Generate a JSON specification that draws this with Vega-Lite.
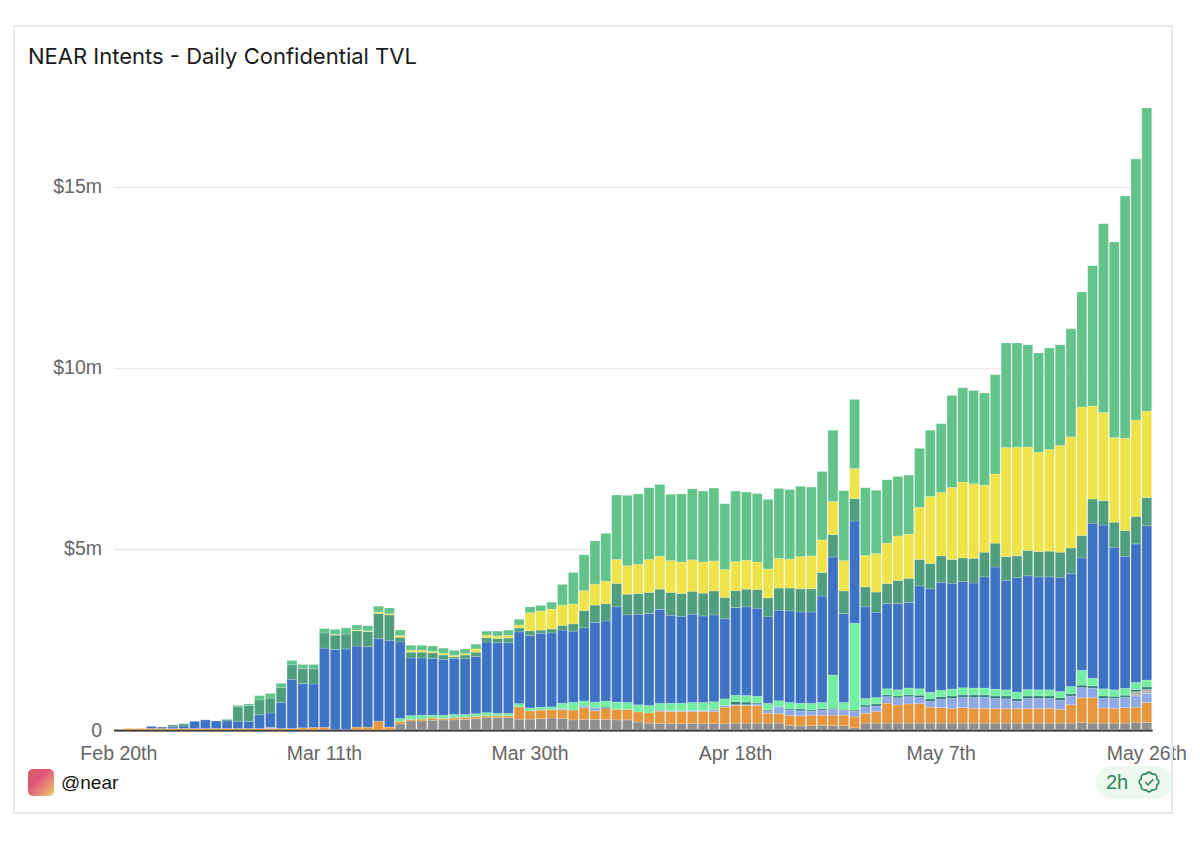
{
  "$schema": "https://vega.github.io/schema/vega-lite/v6.json",
  "width": 1038.6,
  "height": 622,
  "autosize": "none",
  "padding": {"left": 113.5, "top": 108, "right": 47.9, "bottom": 112},
  "background": "white",
  "title": {"text": "NEAR Intents - Daily Confidential TVL", "anchor": "start", "frame": "group", "dx": -85.5, "offset": -44, "font": "Inter", "fontSize": 22, "fontWeight": 400, "color": "#1a1a1a"},
  "config": {"view": {"stroke": null}},
  "datasets": {
    "tvl": [
      {"day":"Feb 20th","b_orange":0.01},
      {"day":"Feb 21st","b_orange":0.04},
      {"day":"Feb 22nd","b_orange":0.04},
      {"day":"Feb 23rd","b_orange":0.04,"g_blue":0.06},
      {"day":"Feb 24th","b_orange":0.04,"g_blue":0.04},
      {"day":"Feb 25th","b_orange":0.04,"g_blue":0.05,"h_forest":0.05},
      {"day":"Feb 26th","b_orange":0.04,"g_blue":0.07,"h_forest":0.06},
      {"day":"Feb 27th","b_orange":0.04,"g_blue":0.20},
      {"day":"Feb 28th","b_orange":0.04,"g_blue":0.24},
      {"day":"Mar 1st","b_orange":0.04,"g_blue":0.21},
      {"day":"Mar 2nd","b_orange":0.04,"g_blue":0.21,"h_forest":0.04},
      {"day":"Mar 3rd","b_orange":0.04,"g_blue":0.20,"h_forest":0.40,"j_green":0.04},
      {"day":"Mar 4th","b_orange":0.04,"g_blue":0.20,"h_forest":0.44,"j_green":0.04},
      {"day":"Mar 5th","b_orange":0.04,"g_blue":0.38,"h_forest":0.41,"j_green":0.12},
      {"day":"Mar 6th","b_orange":0.04,"c_peri":0.04,"g_blue":0.39,"h_forest":0.41,"j_green":0.13},
      {"day":"Mar 7th","b_orange":0.04,"g_blue":0.72,"h_forest":0.41,"j_green":0.12},
      {"day":"Mar 8th","b_orange":0.04,"g_blue":1.36,"h_forest":0.40,"j_green":0.12},
      {"day":"Mar 9th","b_orange":0.06,"g_blue":1.22,"h_forest":0.42,"j_green":0.11},
      {"day":"Mar 10th","b_orange":0.07,"g_blue":1.20,"h_forest":0.42,"j_green":0.12},
      {"day":"Mar 11th","b_orange":0.07,"g_blue":2.19,"h_forest":0.42,"j_green":0.12},
      {"day":"Mar 12th","b_orange":0.01,"g_blue":2.21,"h_forest":0.40,"i_yellow":0.02,"j_green":0.14},
      {"day":"Mar 13th","b_orange":0.01,"g_blue":2.23,"h_forest":0.41,"j_green":0.17},
      {"day":"Mar 14th","b_orange":0.08,"g_blue":2.24,"h_forest":0.42,"i_yellow":0.02,"j_green":0.14},
      {"day":"Mar 15th","b_orange":0.08,"g_blue":2.22,"h_forest":0.42,"i_yellow":0.02,"j_green":0.14},
      {"day":"Mar 16th","b_orange":0.24,"g_blue":2.28,"h_forest":0.70,"i_yellow":0.04,"j_green":0.16},
      {"day":"Mar 17th","b_orange":0.08,"g_blue":2.39,"h_forest":0.71,"i_yellow":0.03,"j_green":0.16},
      {"day":"Mar 18th","a_gray":0.17,"b_orange":0.07,"f_mint":0.08,"g_blue":2.11,"h_forest":0.13,"i_yellow":0.05,"j_green":0.15},
      {"day":"Mar 19th","a_gray":0.25,"b_orange":0.04,"f_mint":0.11,"g_blue":1.59,"h_forest":0.16,"i_yellow":0.05,"j_green":0.14},
      {"day":"Mar 20th","a_gray":0.25,"b_orange":0.05,"f_mint":0.11,"g_blue":1.58,"h_forest":0.16,"i_yellow":0.05,"j_green":0.14},
      {"day":"Mar 21st","a_gray":0.27,"b_orange":0.06,"f_mint":0.08,"g_blue":1.57,"h_forest":0.15,"i_yellow":0.04,"j_green":0.15},
      {"day":"Mar 22nd","a_gray":0.28,"b_orange":0.04,"f_mint":0.09,"g_blue":1.54,"h_forest":0.12,"i_yellow":0.05,"j_green":0.14},
      {"day":"Mar 23rd","a_gray":0.28,"b_orange":0.06,"f_mint":0.09,"g_blue":1.55,"h_forest":0.04,"i_yellow":0.04,"j_green":0.14},
      {"day":"Mar 24th","a_gray":0.29,"b_orange":0.06,"f_mint":0.08,"g_blue":1.55,"h_forest":0.09,"i_yellow":0.04,"j_green":0.13},
      {"day":"Mar 25th","a_gray":0.31,"b_orange":0.06,"f_mint":0.08,"g_blue":1.58,"h_forest":0.12,"i_yellow":0.09,"j_green":0.13},
      {"day":"Mar 26th","a_gray":0.34,"b_orange":0.05,"f_mint":0.09,"g_blue":1.95,"h_forest":0.12,"i_yellow":0.07,"j_green":0.11},
      {"day":"Mar 27th","a_gray":0.34,"b_orange":0.05,"f_mint":0.07,"g_blue":1.95,"h_forest":0.12,"i_yellow":0.07,"j_green":0.13},
      {"day":"Mar 28th","a_gray":0.34,"b_orange":0.05,"f_mint":0.07,"g_blue":1.95,"h_forest":0.13,"i_yellow":0.07,"j_green":0.15},
      {"day":"Mar 29th","a_gray":0.30,"b_orange":0.34,"f_mint":0.09,"g_blue":1.98,"h_forest":0.11,"i_yellow":0.08,"j_green":0.16},
      {"day":"Mar 30th","a_gray":0.30,"b_orange":0.23,"f_mint":0.08,"g_blue":2.00,"h_forest":0.13,"i_yellow":0.50,"j_green":0.16},
      {"day":"Mar 31st","a_gray":0.31,"b_orange":0.24,"f_mint":0.08,"g_blue":2.04,"h_forest":0.09,"i_yellow":0.53,"j_green":0.15},
      {"day":"Apr 1st","a_gray":0.33,"b_orange":0.23,"f_mint":0.08,"g_blue":2.04,"h_forest":0.11,"i_yellow":0.55,"j_green":0.19},
      {"day":"Apr 2nd","a_gray":0.32,"b_orange":0.24,"c_peri":0.03,"f_mint":0.15,"g_blue":2.02,"h_forest":0.13,"i_yellow":0.56,"j_green":0.57},
      {"day":"Apr 3rd","a_gray":0.28,"b_orange":0.27,"f_mint":0.21,"g_blue":1.97,"h_forest":0.20,"i_yellow":0.55,"j_green":0.87},
      {"day":"Apr 4th","a_gray":0.29,"b_orange":0.32,"c_peri":0.05,"f_mint":0.14,"g_blue":2.02,"h_forest":0.48,"i_yellow":0.55,"j_green":0.99},
      {"day":"Apr 5th","a_gray":0.29,"b_orange":0.24,"c_peri":0.08,"f_mint":0.16,"g_blue":2.20,"h_forest":0.48,"i_yellow":0.58,"j_green":1.19},
      {"day":"Apr 6th","a_gray":0.29,"b_orange":0.30,"e_teal":0.04,"f_mint":0.17,"g_blue":2.21,"h_forest":0.48,"i_yellow":0.62,"j_green":1.32},
      {"day":"Apr 7th","a_gray":0.28,"b_orange":0.29,"f_mint":0.20,"g_blue":2.63,"h_forest":0.65,"i_yellow":0.66,"j_green":1.78},
      {"day":"Apr 8th","a_gray":0.28,"b_orange":0.29,"f_mint":0.19,"g_blue":2.42,"h_forest":0.57,"i_yellow":0.79,"j_green":1.94},
      {"day":"Apr 9th","a_gray":0.22,"b_orange":0.28,"f_mint":0.20,"g_blue":2.50,"h_forest":0.57,"i_yellow":0.81,"j_green":1.94},
      {"day":"Apr 10th","a_gray":0.19,"b_orange":0.28,"f_mint":0.21,"g_blue":2.54,"h_forest":0.58,"i_yellow":0.91,"j_green":1.98},
      {"day":"Apr 11th","a_gray":0.18,"b_orange":0.34,"c_peri":0.03,"f_mint":0.19,"g_blue":2.59,"h_forest":0.56,"i_yellow":0.91,"j_green":1.98},
      {"day":"Apr 12th","a_gray":0.18,"b_orange":0.33,"c_peri":0.02,"f_mint":0.21,"g_blue":2.43,"h_forest":0.63,"i_yellow":0.88,"j_green":1.83},
      {"day":"Apr 13th","a_gray":0.18,"b_orange":0.33,"c_peri":0.02,"f_mint":0.21,"g_blue":2.40,"h_forest":0.63,"i_yellow":0.87,"j_green":1.88},
      {"day":"Apr 14th","a_gray":0.18,"b_orange":0.33,"c_peri":0.03,"f_mint":0.22,"g_blue":2.44,"h_forest":0.63,"i_yellow":0.87,"j_green":1.96},
      {"day":"Apr 15th","a_gray":0.18,"b_orange":0.33,"c_peri":0.03,"f_mint":0.22,"g_blue":2.39,"h_forest":0.63,"i_yellow":0.86,"j_green":1.96},
      {"day":"Apr 16th","a_gray":0.18,"b_orange":0.33,"c_peri":0.05,"f_mint":0.22,"g_blue":2.40,"h_forest":0.66,"i_yellow":0.83,"j_green":2.01},
      {"day":"Apr 17th","a_gray":0.17,"b_orange":0.46,"c_peri":0.05,"f_mint":0.18,"g_blue":2.21,"h_forest":0.59,"i_yellow":0.77,"j_green":1.82},
      {"day":"Apr 18th","a_gray":0.19,"b_orange":0.49,"c_peri":0.02,"e_teal":0.08,"f_mint":0.18,"g_blue":2.42,"h_forest":0.47,"i_yellow":0.80,"j_green":1.95},
      {"day":"Apr 19th","a_gray":0.19,"b_orange":0.49,"c_peri":0.02,"e_teal":0.07,"f_mint":0.18,"g_blue":2.45,"h_forest":0.49,"i_yellow":0.80,"j_green":1.88},
      {"day":"Apr 20th","a_gray":0.19,"b_orange":0.48,"c_peri":0.05,"e_teal":0.03,"f_mint":0.18,"g_blue":2.43,"h_forest":0.52,"i_yellow":0.76,"j_green":1.89},
      {"day":"Apr 21st","a_gray":0.19,"b_orange":0.27,"c_peri":0.07,"e_teal":0.03,"f_mint":0.18,"g_blue":2.40,"h_forest":0.51,"i_yellow":0.80,"j_green":1.92},
      {"day":"Apr 22nd","a_gray":0.19,"b_orange":0.26,"c_peri":0.18,"e_teal":0.02,"f_mint":0.16,"g_blue":2.50,"h_forest":0.61,"i_yellow":0.82,"j_green":1.93},
      {"day":"Apr 23rd","a_gray":0.13,"b_orange":0.27,"c_peri":0.15,"e_teal":0.03,"f_mint":0.18,"g_blue":2.53,"h_forest":0.63,"i_yellow":0.80,"j_green":1.92},
      {"day":"Apr 24th","a_gray":0.11,"b_orange":0.28,"c_peri":0.14,"e_teal":0.05,"f_mint":0.16,"g_blue":2.52,"h_forest":0.64,"i_yellow":0.89,"j_green":1.94},
      {"day":"Apr 25th","a_gray":0.12,"b_orange":0.29,"c_peri":0.11,"e_teal":0.04,"f_mint":0.18,"g_blue":2.52,"h_forest":0.64,"i_yellow":0.91,"j_green":1.90},
      {"day":"Apr 26th","a_gray":0.13,"b_orange":0.28,"c_peri":0.14,"e_teal":0.04,"f_mint":0.17,"g_blue":2.94,"h_forest":0.65,"i_yellow":0.90,"j_green":1.89},
      {"day":"Apr 27th","a_gray":0.12,"b_orange":0.29,"c_peri":0.16,"e_teal":0.03,"f_mint":0.92,"g_blue":3.26,"h_forest":0.62,"i_yellow":0.91,"j_green":1.97},
      {"day":"Apr 28th","a_gray":0.12,"b_orange":0.29,"c_peri":0.13,"e_teal":0.03,"f_mint":0.19,"g_blue":2.46,"h_forest":0.62,"i_yellow":0.84,"j_green":1.93},
      {"day":"Apr 29th","a_gray":0.06,"b_orange":0.30,"c_peri":0.16,"e_teal":0.03,"f_mint":2.40,"g_blue":2.82,"h_forest":0.62,"i_yellow":0.83,"j_green":1.91},
      {"day":"Apr 30th","a_gray":0.19,"b_orange":0.27,"c_peri":0.18,"e_teal":0.05,"f_mint":0.18,"g_blue":2.53,"h_forest":0.55,"i_yellow":0.87,"j_green":1.87},
      {"day":"May 1st","a_gray":0.19,"b_orange":0.32,"c_peri":0.15,"e_teal":0.06,"f_mint":0.18,"g_blue":2.35,"h_forest":0.56,"i_yellow":1.06,"j_green":1.75},
      {"day":"May 2nd","a_gray":0.19,"b_orange":0.55,"c_peri":0.18,"e_teal":0.05,"f_mint":0.17,"g_blue":2.35,"h_forest":0.55,"i_yellow":1.12,"j_green":1.75},
      {"day":"May 3rd","a_gray":0.19,"b_orange":0.50,"c_peri":0.20,"e_teal":0.05,"f_mint":0.17,"g_blue":2.38,"h_forest":0.64,"i_yellow":1.23,"j_green":1.64},
      {"day":"May 4th","a_gray":0.19,"b_orange":0.53,"c_peri":0.20,"e_teal":0.05,"f_mint":0.19,"g_blue":2.36,"h_forest":0.67,"i_yellow":1.22,"j_green":1.63},
      {"day":"May 5th","a_gray":0.19,"b_orange":0.54,"c_peri":0.17,"e_teal":0.06,"f_mint":0.18,"g_blue":2.84,"h_forest":0.73,"i_yellow":1.44,"j_green":1.63},
      {"day":"May 6th","a_gray":0.19,"b_orange":0.44,"c_peri":0.16,"e_teal":0.07,"f_mint":0.18,"g_blue":2.86,"h_forest":0.70,"i_yellow":1.85,"j_green":1.83},
      {"day":"May 7th","a_gray":0.19,"b_orange":0.43,"c_peri":0.23,"e_teal":0.07,"f_mint":0.18,"g_blue":2.98,"h_forest":0.73,"i_yellow":1.75,"j_green":1.90},
      {"day":"May 8th","a_gray":0.19,"b_orange":0.41,"c_peri":0.27,"e_teal":0.07,"f_mint":0.19,"g_blue":2.92,"h_forest":0.66,"i_yellow":1.99,"j_green":2.54},
      {"day":"May 9th","a_gray":0.19,"b_orange":0.43,"c_peri":0.28,"e_teal":0.07,"f_mint":0.20,"g_blue":2.93,"h_forest":0.65,"i_yellow":2.10,"j_green":2.60},
      {"day":"May 10th","a_gray":0.19,"b_orange":0.41,"c_peri":0.30,"e_teal":0.07,"f_mint":0.19,"g_blue":2.90,"h_forest":0.68,"i_yellow":2.06,"j_green":2.58},
      {"day":"May 11th","a_gray":0.19,"b_orange":0.41,"c_peri":0.30,"e_teal":0.07,"f_mint":0.19,"g_blue":3.07,"h_forest":0.68,"i_yellow":1.85,"j_green":2.55},
      {"day":"May 12th","a_gray":0.19,"b_orange":0.40,"c_peri":0.28,"e_teal":0.07,"f_mint":0.19,"g_blue":3.37,"h_forest":0.66,"i_yellow":1.91,"j_green":2.74},
      {"day":"May 13th","a_gray":0.19,"b_orange":0.40,"c_peri":0.27,"e_teal":0.08,"f_mint":0.17,"g_blue":3.02,"h_forest":0.66,"i_yellow":3.01,"j_green":2.89},
      {"day":"May 14th","a_gray":0.19,"b_orange":0.40,"c_peri":0.21,"e_teal":0.07,"f_mint":0.18,"g_blue":3.16,"h_forest":0.60,"i_yellow":3.00,"j_green":2.88},
      {"day":"May 15th","a_gray":0.19,"b_orange":0.40,"c_peri":0.28,"e_teal":0.07,"f_mint":0.18,"g_blue":3.14,"h_forest":0.70,"i_yellow":2.86,"j_green":2.82},
      {"day":"May 16th","a_gray":0.19,"b_orange":0.40,"c_peri":0.28,"e_teal":0.07,"f_mint":0.17,"g_blue":3.12,"h_forest":0.70,"i_yellow":2.74,"j_green":2.74},
      {"day":"May 17th","a_gray":0.19,"b_orange":0.41,"c_peri":0.27,"e_teal":0.07,"f_mint":0.17,"g_blue":3.12,"h_forest":0.71,"i_yellow":2.81,"j_green":2.80},
      {"day":"May 18th","a_gray":0.19,"b_orange":0.38,"c_peri":0.25,"e_teal":0.07,"f_mint":0.17,"g_blue":3.15,"h_forest":0.70,"i_yellow":2.95,"j_green":2.78},
      {"day":"May 19th","a_gray":0.19,"b_orange":0.51,"c_peri":0.24,"e_teal":0.06,"f_mint":0.20,"g_blue":3.12,"h_forest":0.71,"i_yellow":3.07,"j_green":2.98},
      {"day":"May 20th","a_gray":0.21,"b_orange":0.68,"c_peri":0.28,"e_teal":0.07,"f_mint":0.41,"g_blue":3.10,"h_forest":0.62,"i_yellow":3.55,"j_green":3.18},
      {"day":"May 21st","a_gray":0.19,"b_orange":0.70,"c_peri":0.26,"e_teal":0.07,"f_mint":0.21,"g_blue":4.28,"h_forest":0.67,"i_yellow":2.57,"j_green":3.87},
      {"day":"May 22nd","a_gray":0.19,"b_orange":0.42,"c_peri":0.26,"e_teal":0.07,"f_mint":0.20,"g_blue":4.52,"h_forest":0.67,"i_yellow":2.44,"j_green":5.21},
      {"day":"May 23rd","a_gray":0.19,"b_orange":0.41,"c_peri":0.27,"e_teal":0.06,"f_mint":0.18,"g_blue":3.94,"h_forest":0.69,"i_yellow":2.34,"j_green":5.40},
      {"day":"May 24th","a_gray":0.19,"b_orange":0.43,"c_peri":0.28,"e_teal":0.06,"f_mint":0.19,"g_blue":3.64,"h_forest":0.72,"i_yellow":2.55,"j_green":6.69},
      {"day":"May 25th","a_gray":0.21,"b_orange":0.42,"c_peri":0.31,"d_silver":0.12,"e_teal":0.06,"f_mint":0.19,"g_blue":3.83,"h_forest":0.76,"i_yellow":2.66,"j_green":7.21},
      {"day":"May 26th","a_gray":0.21,"b_orange":0.55,"c_peri":0.25,"d_silver":0.11,"e_teal":0.07,"f_mint":0.19,"g_blue":4.26,"h_forest":0.78,"i_yellow":2.39,"j_green":8.37}
    ]
  },
  "layer": [
    {
      "data": {"name": "tvl"},
      "transform": [
        {"fold": ["a_gray", "b_orange", "c_peri", "d_silver", "e_teal", "f_mint", "g_blue", "h_forest", "i_yellow", "j_green"], "as": ["series", "tvl_m"]},
        {"filter": {"field": "tvl_m", "valid": true}}
      ],
      "mark": {"type": "bar", "stroke": "white", "strokeOpacity": 0.35, "strokeWidth": 0.5},
      "encoding": {
        "x": {
          "field": "day",
          "type": "ordinal",
          "sort": null,
          "title": null,
          "scale": {"paddingInner": 0.09, "paddingOuter": 0.04},
          "axis": {
            "values": ["Feb 20th", "Mar 11th", "Mar 30th", "Apr 18th", "May 7th", "May 26th"],
            "labelAngle": 0,
            "labelOverlap": false,
            "labelFont": "Liberation Sans",
            "labelFontSize": 19.5,
            "labelColor": "#666666",
            "labelPadding": 14,
            "ticks": false,
            "domainColor": "#222222",
            "domainWidth": 2,
            "grid": false
          }
        },
        "y": {
          "field": "tvl_m",
          "type": "quantitative",
          "stack": "zero",
          "title": null,
          "scale": {"domain": [0, 17.18], "nice": false},
          "axis": {
            "values": [0, 5, 10, 15],
            "labelExpr": "datum.value == 0 ? '0' : '$' + datum.value + 'm'",
            "labelFont": "Liberation Sans",
            "labelFontSize": 19.5,
            "labelColor": "#666666",
            "labelPadding": 12,
            "ticks": false,
            "domain": false,
            "grid": true,
            "gridColor": "#e9e9e9",
            "gridWidth": 1.5
          }
        },
        "color": {
          "field": "series",
          "type": "nominal",
          "legend": null,
          "scale": {
            "domain": ["a_gray", "b_orange", "c_peri", "d_silver", "e_teal", "f_mint", "g_blue", "h_forest", "i_yellow", "j_green"],
            "range": ["#8e8e8e", "#e8963c", "#8fa8e8", "#b5b5b5", "#2f7d7c", "#72efa0", "#3d72c4", "#4f9e7e", "#eee44a", "#62c48a"]
          }
        },
        "order": {"field": "series", "sort": "ascending"}
      }
    },
    {
      "data": {"values": [{}]},
      "mark": {"type": "rect", "fill": null, "stroke": "#e8e8e8", "strokeWidth": 2},
      "encoding": {"x": {"value": -99.5}, "x2": {"value": 1058.5}, "y": {"value": -82}, "y2": {"value": 705}}
    },
    {
      "data": {"values": [{}]},
      "mark": {
        "type": "rect",
        "cornerRadius": 5,
        "fill": {"x1": 0, "y1": 0, "x2": 1, "y2": 1, "gradient": "linear", "stops": [{"offset": 0, "color": "#d9605a"}, {"offset": 0.4, "color": "#e0557e"}, {"offset": 1, "color": "#f2cf6c"}]}
      },
      "encoding": {"x": {"value": -85.5}, "x2": {"value": -59.5}, "y": {"value": 661}, "y2": {"value": 688}}
    },
    {
      "data": {"values": [{"handle": "@near"}]},
      "mark": {"type": "text", "align": "left", "baseline": "middle", "font": "Liberation Sans", "fontSize": 19, "color": "#111111"},
      "encoding": {"x": {"value": -52.5}, "y": {"value": 675}, "text": {"field": "handle"}}
    },
    {
      "data": {"values": [{}]},
      "mark": {"type": "rect", "cornerRadius": 16.5, "fill": "#edf8ef"},
      "encoding": {"x": {"value": 982.5}, "x2": {"value": 1058.5}, "y": {"value": 658}, "y2": {"value": 691}}
    },
    {
      "data": {"values": [{"age": "2h"}]},
      "mark": {"type": "text", "align": "left", "baseline": "middle", "font": "Liberation Sans", "fontSize": 20, "color": "#2e8555"},
      "encoding": {"x": {"value": 992.5}, "y": {"value": 675}, "text": {"field": "age"}}
    },
    {
      "data": {"values": [{}]},
      "mark": {
        "type": "point",
        "filled": false,
        "size": 440,
        "strokeWidth": 1.6,
        "color": "#2e8555",
        "opacity": 1,
        "shape": "M0.74,-0.31 Q1.15,0 0.74,0.31 Q0.81,0.81 0.31,0.74 Q0,1.15 -0.31,0.74 Q-0.81,0.81 -0.74,0.31 Q-1.15,0 -0.74,-0.31 Q-0.81,-0.81 -0.31,-0.74 Q0,-1.15 0.31,-0.74 Q0.81,-0.81 0.74,-0.31 Z M-0.35,0 L-0.1,0.28 L0.4,-0.25"
      },
      "encoding": {"x": {"value": 1035.5}, "y": {"value": 674}}
    }
  ]
}
